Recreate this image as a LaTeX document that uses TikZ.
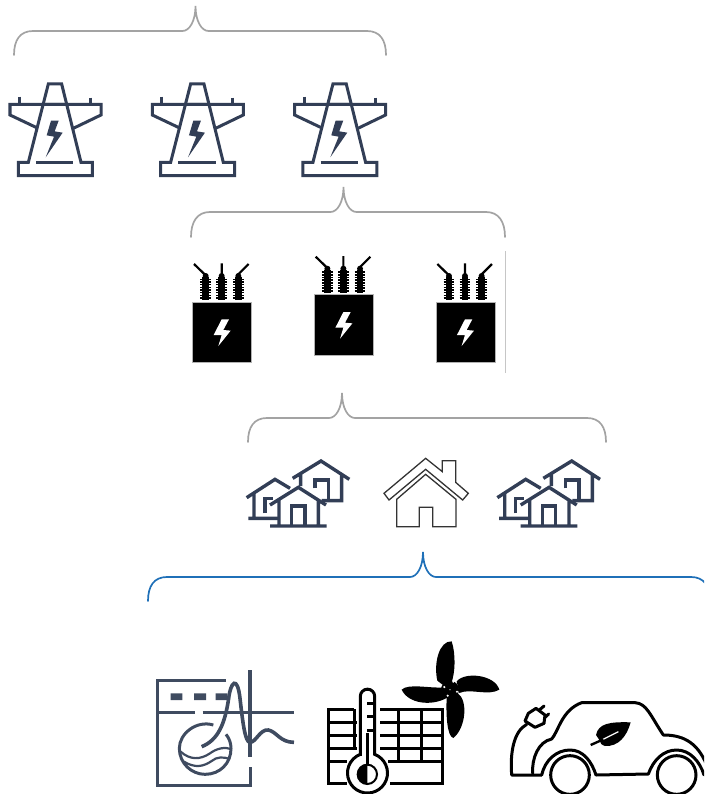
\documentclass[tikz,border=0pt]{standalone}
\definecolor{navy}{HTML}{323E56}
\definecolor{slate}{HTML}{3F4B60}
\definecolor{bracegray}{HTML}{A3A3A3}
\definecolor{braceblue}{HTML}{1F70B8}
\newcommand{\mybrace}[6]{%
 \draw[#6,line width=1.7pt,line cap=round,x=1pt,y=-1pt]
  (#1,#5) .. controls (#1,{#5-15}) and ({#1+6},#4) .. ({#1+19},#4)
  -- ({#2-13},#4) .. controls ({#2-6},#4) and (#2,{#4-10}) .. (#2,{#4-25})
  .. controls (#2,{#4-10}) and ({#2+6},#4) .. ({#2+13},#4)
  -- ({#3-19},#4) .. controls ({#3-6},#4) and (#3,{#5-15}) .. (#3,#5);}
\tikzset{
 zoomed/.style={x=0.33333pt,y=-0.33333pt},
 towerline/.style={draw=navy,line width=3pt,line join=miter},
 cluster/.style={draw=navy,line width=3.4pt,line join=miter},
 outline/.style={draw=black!80,line width=1.3pt,line join=miter},
 washer/.style={draw=slate,line width=3pt},
 gridline/.style={draw=black,line width=3pt},
 carline/.style={draw=black,line width=3pt,line join=round,line cap=round},
 tower/.pic={\begin{scope}[zoomed]
  \draw[towerline] (145,252)--(185,252)--(243,487)--(277,487)--(277,527)--(55,527)--(55,487)--(85,487)--cycle;
  \draw[towerline] (108,487)--(220,487);
  \draw[towerline] (133,313)--(303,313)--(303,345)--(220,385);
  \draw[towerline] (197,313)--(30,313)--(30,345)--(110,383);
  \draw[towerline] (59,290)--(59,313) (272,293)--(272,313);
  \fill[navy] (153,362)--(176,362)--(164,394)--(188,398)--(137,472)--(162,410)--(140,406)--cycle;
 \end{scope}},
 transformer/.pic={\begin{scope}[zoomed]
  \fill[black] (38,186) rectangle (215,368);
  \draw[gray!60,line width=.6pt] (38,186) rectangle (215,368);
  \fill[white] (125,238)--(147,238)--(130,270)--(152,272)--(115,318)--(125,285)--(101,285)--cycle;
  \foreach \c in {77,125,175}{
   \fill[black] ({\c-10},112) rectangle ({\c+10},180);
   \fill[black] (\c,108) circle (9);
   \foreach \r in {118,126,...,178}
    \draw[black,line width=1.6pt] ({\c-16},\r)--({\c+16},\r);
  }
  \draw[black,line width=2.2pt] (42,72)--(76,105) (125,70)--(125,106) (206,72)--(173,105);
 \end{scope}},
 houses/.pic={\begin{scope}[zoomed]
  \draw[cluster] (158,85)--(243,33)--(328,88) (305,72)--(305,152)--(245,152) (182,72)--(182,108);
  \draw[cluster] (225,115)--(225,90)--(265,90)--(265,150);
  \draw[cluster] (20,143)--(105,88)--(150,115) (42,130)--(42,205) (25,205)--(115,205);
  \draw[cluster] (75,190)--(75,145)--(100,145);
  \draw[cluster] (90,165)--(175,112)--(258,165) (117,150)--(117,228) (235,150)--(235,228) (90,228)--(260,228);
  \draw[cluster] (155,228)--(155,168)--(195,168)--(195,228);
 \end{scope}}
}
\begin{document}
\begin{tikzpicture}[x=1pt,y=-1pt]
\useasboundingbox (0,0) rectangle (704,794);
\clip (0,0) rectangle (704,794);
% braces
\mybrace{14}{195.5}{386}{31}{55}{bracegray}
\mybrace{191}{343.5}{505}{212}{237}{bracegray}
\mybrace{248}{342}{606}{418}{442}{bracegray}
\mybrace{148}{423}{710}{577}{601}{braceblue}
% towers
\pic (towerA) at (0,0) {tower};
\pic (towerB) at (142.3,0) {tower};
\pic (towerC) at (284.6,0) {tower};
% transformers
\pic (transA) at (180,240) {transformer};
\pic (transB) at (301.7,232.7) {transformer};
\pic (transC) at (423.3,240) {transformer};
\draw[gray!45,line width=1pt] (505,251)--(505,373);
% houses
\pic (housesA) at (240,450) {houses};
\pic (housesB) at (490.7,450) {houses};
\begin{scope}[shift={(240,450)},zoomed]
 \draw[outline] (432,130)--(557,25)--(607,65)--(607,32)--(647,32)--(647,97)--(685,130)--(668,150)--(557,58)--(447,150)--cycle;
 \draw[outline] (470,148)--(557,73)--(648,148)--(648,230)--(578,230)--(578,172)--(538,172)--(538,230)--(470,230)--cycle;
\end{scope}
% washer with load curve
\begin{scope}[shift={(150,665)},zoomed]
 \draw[washer] (228,45)--(22,45)--(22,360)--(300,360)--(300,305);
 \draw[washer,line width=3.4pt] (22,143)--(135,143) (158,143)--(432,143) (300,15)--(300,275);
 \fill[slate] (62,85) rectangle (97,105) (132,85) rectangle (168,105) (197,85) rectangle (232,105);
 \draw[washer,line width=3.6pt] (155,245) .. controls (205,225) and (225,175) .. (236,100)
   .. controls (242,50) and (262,30) .. (270,100)
   .. controls (278,170) and (285,232) .. (300,232)
   .. controls (318,232) and (330,192) .. (355,195)
   .. controls (380,200) and (390,232) .. (432,232);
 \draw[washer] (190,180) .. controls (140,165) and (88,205) .. (88,250)
   .. controls (88,295) and (125,328) .. (165,328)
   .. controls (210,328) and (243,295) .. (243,250)
   .. controls (243,235) and (238,220) .. (228,208);
 \draw[washer,line width=2.2pt] (92,260) .. controls (120,285) and (150,285) .. (180,265) .. controls (200,250) and (225,245) .. (243,252);
 \draw[washer,line width=2.2pt] (102,290) .. controls (135,310) and (160,305) .. (185,288) .. controls (200,275) and (220,275) .. (240,282);
\end{scope}
% heated building
\begin{scope}[shift={(140,635)},zoomed]
 \draw[gridline] (643,222)--(565,222)--(565,445)--(620,445);
 \draw[gridline] (720,222)--(908,222)--(908,445)--(750,445);
 \draw[gridline] (643,222)--(643,340) (775,222)--(775,378) (843,222)--(843,378);
 \foreach \r in {261,300,339}{
  \draw[gridline] (565,\r)--(650,\r) (720,\r)--(908,\r);}
 \draw[gridline] (565,378)--(620,378) (745,378)--(908,378);
 \filldraw[fill=white,draw=black,line width=3pt] (661,358) -- (661,184) arc[start angle=180,end angle=360,radius=21.5] -- (704,358)
   arc[start angle=-69,end angle=249,radius=60] -- cycle;
 \draw[gridline] (682,205)--(704,205) (682,245)--(704,245) (682,285)--(704,285);
 \draw[black,line width=3.4pt] (682,295)--(682,388);
 \draw[black,line width=2pt] (682,418) circle (29);
 \fill[black] (682,388) arc[start angle=-90,end angle=-270,radius=30] -- cycle;
\end{scope}
% fan
\begin{scope}[shift={(400,638)},zoomed]
 \fill[black] (112,128) .. controls (100,75) and (118,8) .. (155,10) .. controls (168,50) and (165,105) .. (155,132) -- (130,142) -- cycle;
 \fill[black] (170,130) .. controls (195,100) and (285,110) .. (298,155) .. controls (265,175) and (210,150) .. (178,165) -- cycle;
 \fill[black] (172,165) .. controls (205,185) and (198,270) .. (160,300) .. controls (140,295) and (138,225) .. (140,178) -- cycle;
 \fill[black] (132,148) .. controls (90,152) and (25,135) .. (5,155) .. controls (25,198) and (95,205) .. (140,180) -- cycle;
 \fill[black] (150,155) circle (27);
 \fill[white] (133,147) circle (3.5) (160,131) circle (3.5) (171,161) circle (3.5) (143,173) circle (3.5) (150,155) circle (2);
\end{scope}
% car
\begin{scope}[shift={(500,690)},zoomed]
 \draw[carline] (125,255)--(35,255) .. controls (30,190) and (40,125) .. (80,103);
 \draw[carline] (98,250) .. controls (95,205) and (115,155) .. (155,147)
   .. controls (175,125) and (185,60) .. (245,38) -- (405,38)
   .. controls (440,40) and (450,75) .. (490,135)
   .. controls (540,135) and (590,150) .. (620,225);
 \draw[carline] (125,255) .. controls (135,210) and (170,180) .. (210,180)
   .. controls (250,180) and (275,215) .. (288,255) -- (445,252)
   .. controls (460,210) and (490,180) .. (530,180)
   .. controls (570,180) and (600,215) .. (612,255);
 \draw[carline] (210,255) circle (58) (530,255) circle (58);
 \draw[carline] (75,93)--(85,70)--(108,55)--(135,75)--(132,100)--(105,112)--cycle;
 \draw[carline] (118,60)--(132,48) (135,82)--(146,72);
 \fill[black] (288,135) .. controls (295,100) and (330,95) .. (392,97)
   .. controls (380,140) and (355,170) .. (315,168) .. controls (305,165) and (300,160) .. (298,150) -- cycle;
 \draw[white,line width=1.2pt] (305,150)--(355,125);
 \draw[black,line width=2.4pt] (272,165)--(310,148);
\end{scope}
\end{tikzpicture}
\end{document}
